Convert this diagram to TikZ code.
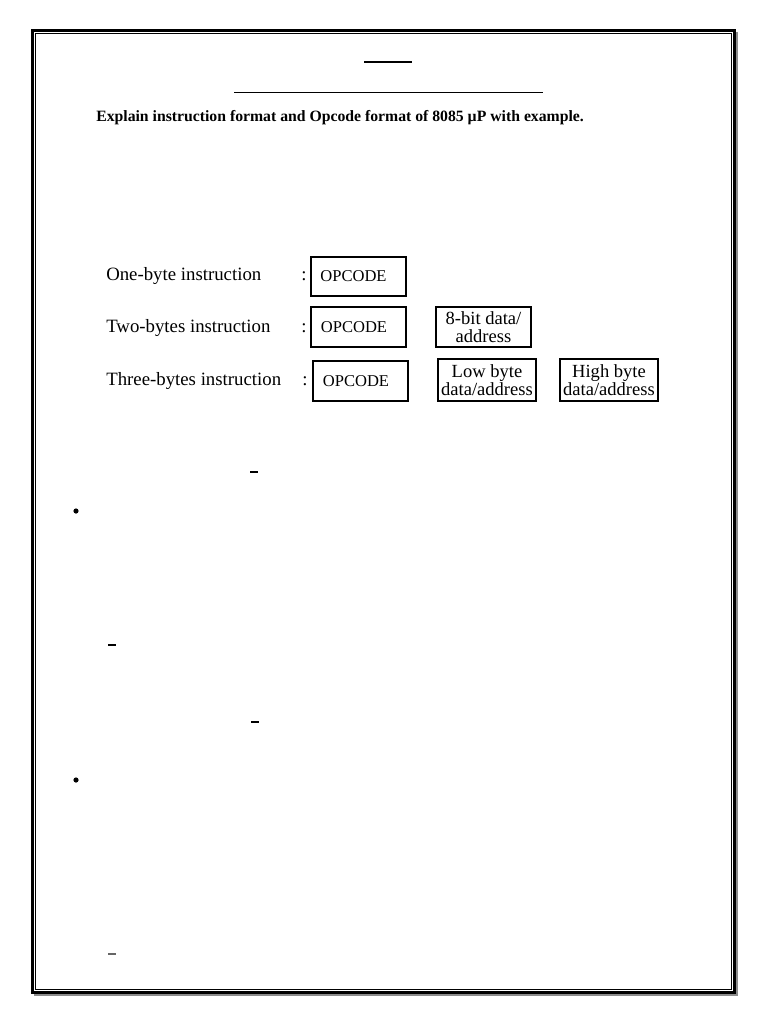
\documentclass[tikz,border=0pt]{standalone}
\usepackage{fontspec}
\setmainfont{Liberation Serif}
\newlength\pxl
\setlength\pxl{0.75pt}
\begin{document}
\begin{tikzpicture}[x=0.75pt,y=-0.75pt,
  lbl/.style={anchor=base west,inner sep=0pt,font=\fontsize{14.1}{16}\selectfont},
  colon/.style={anchor=base,inner sep=0pt,font=\fontsize{14.1}{16}\selectfont},
  opbox/.style={draw,line width=1.4*\pxl,inner sep=0pt,minimum width=95*\pxl,minimum height=40*\pxl,font=\fontsize{12.4}{13}\selectfont},
  databox/.style={draw,line width=1.4*\pxl,inner sep=0pt,minimum width=98*\pxl,minimum height=42*\pxl,align=center,font=\fontsize{13.9}{13.2}\selectfont},
  dashmark/.style={line width=1.3*\pxl},
  dotmark/.style={fill=black}]
\useasboundingbox (0,0) rectangle (768,1024);
% page frame
\draw[line width=3*\pxl] (32,30.5) rectangle (734,992);
\draw[line width=1*\pxl] (35,34) rectangle (731,989);
\draw[line width=2*\pxl,black!45] (736.5,32) -- (736.5,995) -- (34,995);
% header rules
\draw[line width=2*\pxl] (364,62) -- (412,62);
\draw[line width=1*\pxl] (234,93) -- (543,93);
\node[anchor=base west,inner sep=0pt,font=\fontsize{11.8}{14}\selectfont\bfseries] (title) at (96,121)
  {Explain instruction format and Opcode format of 8085 µP with example.};
% instruction formats
\node[lbl] (l1) at (106,280.5) {One-byte instruction};
\node[lbl] (l2) at (106,332) {Two-bytes instruction};
\node[lbl] (l3) at (106,385.5) {Three-bytes instruction};
\node[colon] (c1) at (304,280.5) {:};
\node[colon] (c2) at (304,332) {:};
\node[colon] (c3) at (305,385.5) {:};
\node[opbox,minimum height=39*\pxl] (op1) at (358.5,276.5) {OPCODE\hspace*{10\pxl}};
\node[opbox] (op2) at (358.5,327) {OPCODE\hspace*{9\pxl}};
\node[opbox] (op3) at (360.5,381) {OPCODE\hspace*{9\pxl}};
\node[databox,minimum width=95*\pxl,minimum height=40*\pxl] (d2) at (483.5,327) {8-bit data/\\address};
\node[databox] (lo3) at (487,380) {Low byte\\data/address};
\node[databox] (hi3) at (609,380) {High byte\\data/address};
% stray marks
\draw[dashmark] (250,472) -- (258,472);
\fill[dotmark] (76,511) circle (2.6);
\draw[dashmark] (108,645) -- (116,645);
\draw[dashmark] (251,722) -- (259,722);
\fill[dotmark] (76,780) circle (2.6);
\draw[dashmark,black!60] (108,954) -- (116,954);
\end{tikzpicture}
\end{document}
